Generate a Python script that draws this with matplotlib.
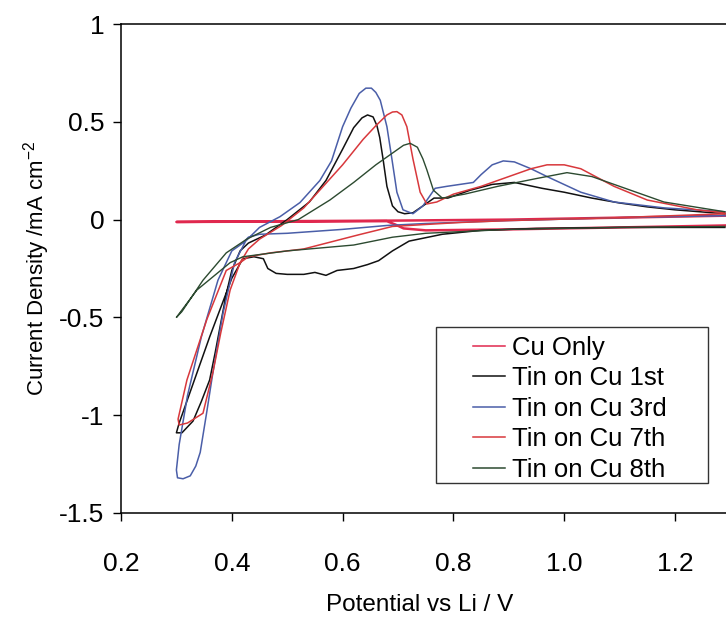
import matplotlib
matplotlib.use("Agg")
import matplotlib.pyplot as plt
from matplotlib.patches import Rectangle

plt.rcParams['font.family'] = ['Liberation Sans', 'DejaVu Sans']
plt.rcParams['mathtext.fontset'] = 'custom'
plt.rcParams['mathtext.rm'] = 'Liberation Sans'
plt.rcParams['mathtext.it'] = 'Liberation Sans'

# Cu only (cathodic then anodic)
cu_x = [1.29, 1.1, 0.9, 0.7, 0.5, 0.3, 0.3, 0.5, 0.68, 0.695, 0.71, 0.75, 0.9, 1.1, 1.29]
cu_y = [0.02, 0.01, 0.0, -0.005, -0.008, -0.012, -0.012, -0.01, -0.008, -0.025, -0.045, -0.055, -0.05, -0.04, -0.03]

# Tin on Cu 1st
c1_x = [1.29, 1.1, 0.95, 0.85, 0.78, 0.72, 0.69, 0.665, 0.645, 0.62, 0.59, 0.57, 0.55, 0.53, 0.5, 0.48,
        0.465, 0.457, 0.44, 0.42, 0.40, 0.38, 0.36, 0.34, 0.32, 0.305, 0.30, 0.31, 0.33, 0.345, 0.36,
        0.37, 0.38, 0.39, 0.40, 0.415, 0.43, 0.46, 0.5, 0.54, 0.57, 0.6, 0.62, 0.635, 0.645, 0.655, 0.662,
        0.667, 0.673, 0.68, 0.69, 0.70, 0.712, 0.727, 0.745, 0.765, 0.79, 0.83, 0.87, 0.91, 0.96, 1.0,
        1.05, 1.1, 1.15, 1.2, 1.29]
c1_y = [-0.04, -0.04, -0.045, -0.055, -0.075, -0.11, -0.16, -0.21, -0.23, -0.25, -0.26, -0.285, -0.27,
        -0.28, -0.28, -0.275, -0.25, -0.2, -0.19, -0.2, -0.3, -0.45, -0.6, -0.76, -0.92, -1.04, -1.09,
        -1.09, -1.03, -0.93, -0.82, -0.68, -0.53, -0.38, -0.26, -0.16, -0.12, -0.08, 0.0, 0.09, 0.2, 0.36,
        0.47, 0.52, 0.535, 0.525, 0.48, 0.42, 0.31, 0.17, 0.07, 0.04, 0.03, 0.035, 0.07, 0.11, 0.11, 0.15,
        0.18, 0.19, 0.16, 0.14, 0.11, 0.085, 0.065, 0.05, 0.03]

# Tin on Cu 3rd
c3_x = [1.29, 1.1, 0.9, 0.75, 0.68, 0.6, 0.5, 0.45, 0.43, 0.42, 0.40, 0.375, 0.345, 0.32, 0.305, 0.30,
        0.302, 0.312, 0.325, 0.335, 0.343, 0.355, 0.366, 0.384, 0.405, 0.425, 0.45, 0.487, 0.523, 0.559,
        0.58, 0.60, 0.615, 0.63, 0.642, 0.652, 0.66, 0.668, 0.68, 0.689, 0.698, 0.709, 0.727, 0.745,
        0.767, 0.788, 0.836, 0.85, 0.87, 0.89, 0.91, 0.94, 0.969, 1.03, 1.09, 1.18, 1.29]
c3_y = [0.02, 0.01, -0.005, -0.02, -0.03, -0.05, -0.07, -0.075, -0.09, -0.12, -0.16, -0.31, -0.6, -0.9,
        -1.15, -1.28, -1.32, -1.325, -1.31, -1.26, -1.19, -0.98, -0.78, -0.48, -0.22, -0.11, -0.04, 0.015,
        0.087, 0.2, 0.3, 0.475, 0.57, 0.645, 0.672, 0.672, 0.65, 0.61, 0.475, 0.31, 0.14, 0.05, 0.03,
        0.07, 0.16, 0.17, 0.19, 0.23, 0.28, 0.30, 0.295, 0.26, 0.22, 0.14, 0.09, 0.06, 0.04]

# Tin on Cu 7th
c7_x = [1.29, 1.1, 0.9, 0.81, 0.69, 0.63, 0.53, 0.47, 0.43, 0.415, 0.39, 0.355, 0.319, 0.303, 0.305,
        0.32, 0.348, 0.366, 0.38, 0.397, 0.415, 0.43, 0.45, 0.49, 0.53, 0.565, 0.6, 0.637, 0.66, 0.68,
        0.69, 0.698, 0.707, 0.716, 0.727, 0.74, 0.752, 0.77, 0.8, 0.85, 0.9, 0.94, 0.969, 1.0, 1.03,
        1.09, 1.15, 1.24, 1.29]
c7_y = [0.03, 0.01, -0.005, -0.015, -0.035, -0.077, -0.15, -0.17, -0.19, -0.22, -0.26, -0.51, -0.82,
        -1.02, -1.05, -1.04, -0.99, -0.78, -0.58, -0.36, -0.22, -0.15, -0.1, -0.03, 0.06, 0.17, 0.28,
        0.41, 0.48, 0.535, 0.55, 0.552, 0.535, 0.475, 0.31, 0.14, 0.08, 0.09, 0.13, 0.17, 0.22, 0.26,
        0.28, 0.28, 0.26, 0.17, 0.1, 0.05, 0.035]

# Tin on Cu 8th
c8_x = [1.29, 1.1, 0.9, 0.75, 0.69, 0.62, 0.5, 0.42, 0.397, 0.337, 0.30, 0.31, 0.348, 0.39, 0.427,
        0.47, 0.52, 0.577, 0.62, 0.66, 0.69, 0.71, 0.722, 0.735, 0.745, 0.752, 0.764, 0.78, 0.82, 0.88,
        0.95, 1.005, 1.05, 1.1, 1.18, 1.29]
c8_y = [-0.035, -0.04, -0.05, -0.07, -0.09, -0.13, -0.16, -0.19, -0.22, -0.36, -0.5, -0.47, -0.31,
        -0.17, -0.1, -0.04, 0.0, 0.1, 0.19, 0.28, 0.34, 0.38, 0.39, 0.37, 0.31, 0.255, 0.15, 0.11, 0.13,
        0.17, 0.21, 0.24, 0.22, 0.17, 0.09, 0.04]

labels = ['Cu Only', 'Tin on Cu 1st', 'Tin on Cu 3rd', 'Tin on Cu 7th', 'Tin on Cu 8th']
xticks = [0.2, 0.4, 0.6, 0.8, 1.0, 1.2]
xtick_labels = ['0.2', '0.4', '0.6', '0.8', '1.0', '1.2']
yticks = [1, 0.5, 0, -0.5, -1, -1.5]
ytick_labels = ['1', '0.5', '0', '-0.5', '-1', '-1.5']

fig = plt.figure(figsize=(7.26, 6.2), dpi=100)
ax = fig.add_axes([121 / 726, 1 - 513 / 620, 1 - 121 / 726, (513 - 24) / 620])

ax.plot(cu_x, cu_y, color='#e0284e', lw=1.8, label=labels[0])
ax.plot(c1_x, c1_y, color='#111111', lw=1.1, label=labels[1])
ax.plot(c3_x, c3_y, color='#4a5ea8', lw=1.1, label=labels[2])
ax.plot(c7_x, c7_y, color='#d8383c', lw=1.1, label=labels[3])
ax.plot(c8_x, c8_y, color='#2c4a30', lw=1.0, label=labels[4])

ax.set_xlim(0.2, 0.2 + (726 - 121) / 554)
ax.set_ylim(-1.5, 1)
ax.set_xticks(xticks, xtick_labels)
ax.set_yticks(yticks, ytick_labels)
ax.spines['right'].set_visible(False)
for s in ['left', 'top', 'bottom']:
    ax.spines[s].set_linewidth(1.1)
ax.tick_params(axis='both', direction='out', length=6, width=1, labelsize=19)
ax.tick_params(axis='x', pad=22)
ax.tick_params(axis='y', pad=6)

ax.set_xlabel('Potential vs Li / V', fontsize=17.5)
ax.set_ylabel('Current Density /mA cm$^{-2}$', fontsize=16)
ax.xaxis.set_label_coords(0.494, -0.165)
ax.yaxis.set_label_coords(-0.114, 0.5)

leg = ax.legend(loc='upper left', bbox_to_anchor=(473 / 726, 1 - 336 / 620),
                bbox_transform=fig.transFigure, frameon=False, fontsize=18.5,
                borderpad=0, borderaxespad=0, handlelength=1.25, handletextpad=0.25,
                labelspacing=0.25)
for line in leg.get_lines():
    line.set_linewidth(1.1)

fig.patches.append(Rectangle((436 / 726, 1 - 483 / 620), 272 / 726, 156 / 620,
                             transform=fig.transFigure, fill=False,
                             edgecolor='#333333', lw=1))

fig.savefig('out.png', dpi=100)
